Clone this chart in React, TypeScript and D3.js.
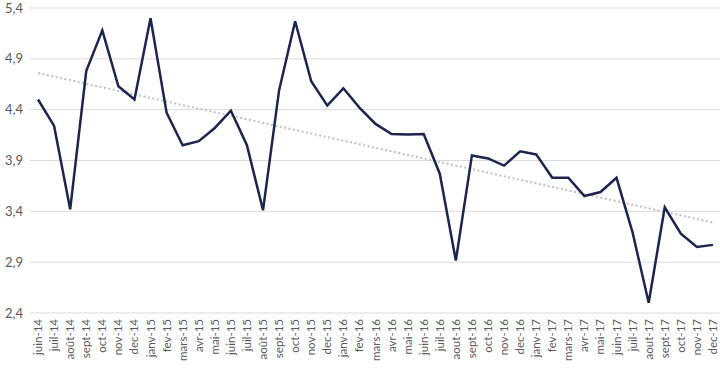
import React, { useEffect, useRef } from 'react';
import * as d3 from 'd3';

const months = [
  'juin-14', 'juil-14', 'août-14', 'sept-14', 'oct-14', 'nov-14', 'dec-14',
  'janv-15', 'fev-15', 'mars-15', 'avr-15', 'mai-15', 'juin-15', 'juil-15', 'août-15', 'sept-15', 'oct-15', 'nov-15', 'dec-15',
  'janv-16', 'fev-16', 'mars-16', 'avr-16', 'mai-16', 'juin-16', 'juil-16', 'aout-16', 'sept-16', 'oct-16', 'nov-16', 'dec-16',
  'janv-17', 'fev-17', 'mars-17', 'avr-17', 'mai-17', 'juin-17', 'juil-17', 'aout-17', 'sept-17', 'oct-17', 'nov-17', 'dec-17',
];

const values = [
  4.5, 4.24, 3.42, 4.78, 5.18, 4.63, 4.5,
  5.3, 4.37, 4.05, 4.09, 4.22, 4.39, 4.05, 3.41, 4.59, 5.27, 4.68, 4.44,
  4.61, 4.42, 4.26, 4.16, 4.155, 4.16, 3.77, 2.915, 3.95, 3.92, 3.85, 3.99,
  3.96, 3.73, 3.73, 3.55, 3.59, 3.73, 3.19, 2.5, 3.44, 3.18, 3.05, 3.07,
];

// dotted linear trend, first and last month
const trendEnds = [4.76, 3.29];

const yTicks = [2.4, 2.9, 3.4, 3.9, 4.4, 4.9, 5.4];

const W = 720;
const H = 369;
const margin = { top: 8, right: -1, bottom: 56, left: 30 };

const App: React.FC = () => {
  const svgRef = useRef<SVGSVGElement>(null);

  useEffect(() => {
    if (!svgRef.current) return;
    const svg = d3.select(svgRef.current);
    svg.selectAll('*').remove();

    const x = d3.scaleBand<string>()
      .domain(months)
      .range([margin.left, W - margin.right])
      .padding(0);
    const cx = (m: string) => (x(m) || 0) + x.bandwidth() / 2;

    const y = d3.scaleLinear()
      .domain([2.4, 5.4])
      .range([H - margin.bottom, margin.top]);

    const font = 'Lato, "Open Sans", sans-serif';

    // grid
    svg.append('g')
      .selectAll('line')
      .data(yTicks)
      .enter()
      .append('line')
      .attr('x1', margin.left)
      .attr('x2', W)
      .attr('y1', d => y(d))
      .attr('y2', d => y(d))
      .attr('stroke', '#d9d9d9')
      .attr('stroke-width', 1);

    // y labels
    svg.append('g')
      .selectAll('text')
      .data(yTicks)
      .enter()
      .append('text')
      .attr('x', 23)
      .attr('y', d => y(d) + 4.5)
      .attr('text-anchor', 'end')
      .attr('fill', '#595959')
      .style('font-family', font)
      .style('font-size', '13px')
      .text(d => d.toFixed(1).replace('.', ','));

    // x labels
    svg.append('g')
      .selectAll('text')
      .data(months)
      .enter()
      .append('text')
      .attr('transform', d => `translate(${cx(d) + 4}, ${y(2.4) + 6}) rotate(-90)`)
      .attr('text-anchor', 'end')
      .attr('fill', '#595959')
      .style('font-family', font)
      .style('font-size', '11.5px')
      .text(d => d);

    // trend
    svg.append('line')
      .attr('x1', cx(months[0]))
      .attr('x2', cx(months[months.length - 1]))
      .attr('y1', y(trendEnds[0]))
      .attr('y2', y(trendEnds[1]))
      .attr('stroke', '#bfbfbf')
      .attr('stroke-width', 2)
      .attr('stroke-dasharray', '2,2.5');

    // series
    const line = d3.line<number>()
      .x((_, i) => cx(months[i]))
      .y(d => y(d));

    svg.append('path')
      .datum(values)
      .attr('d', line)
      .attr('fill', 'none')
      .attr('stroke', '#1b2550')
      .attr('stroke-width', 2.5)
      .attr('stroke-linejoin', 'miter');
  }, []);

  return (
    <svg
      ref={svgRef}
      width={W}
      height={H}
      style={{ position: 'absolute', left: 0, top: 0, background: '#fff' }}
    />
  );
};

export default App;
